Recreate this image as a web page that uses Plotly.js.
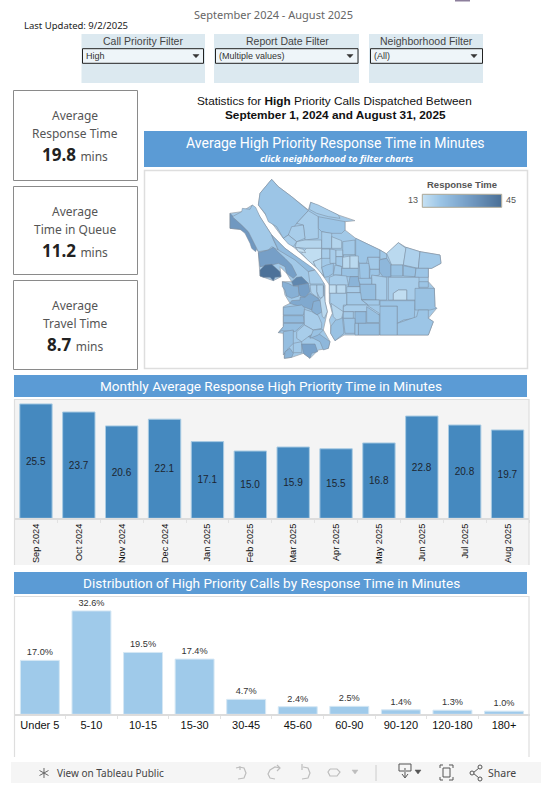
<!DOCTYPE html>
<html><head><meta charset="utf-8">
<script src="https://cdn.plot.ly/plotly-3.0.1.min.js"></script>
<style>html,body{margin:0;padding:0;background:#fff;overflow:hidden}#c{width:541px;height:793px}</style>
</head><body><div id="c"></div>
<script>
const months = ['Sep 2024','Oct 2024','Nov 2024','Dec 2024','Jan 2025','Feb 2025','Mar 2025','Apr 2025','May 2025','Jun 2025','Jul 2025','Aug 2025'];
const monthlyMinutes = [25.5,23.7,20.6,22.1,17.1,15.0,15.9,15.5,16.8,22.8,20.8,19.7];
const bins = ['Under 5','5-10','10-15','15-30','30-45','45-60','60-90','90-120','120-180','180+'];
const binShares = [17.0,32.6,19.5,17.4,4.7,2.4,2.5,1.4,1.3,1.0];
const legendStops = [13,21,29,37,45];
const colorStops = [[0,'#c6e1f3'],[0.22,'#9cc5e6'],[0.55,'#77a0c8'],[1,'#4a6f96']];

// City silhouette and neighborhoods, in map units
const cityLand = [
 [[340,105],[345,70],[380,28],[400,50],[440,80],[490,120],[497,97],[580,135],[630,152],[600,155],[600,180],[632,205],[705,240],[725,252],[760,218],[783,232],[825,245],[885,255],[888,280],[860,295],[850,295],[850,335],[868,355],[870,410],[875,415],[850,445],[865,455],[850,495],[640,495],[597,495],[570,512],[557,490],[557,468],[553,450],[562,430],[553,395],[553,345],[550,340],[522,300],[490,270],[450,235],[415,205],[380,160]],
 [[255,130],[290,125],[322,105],[345,140],[380,195],[420,235],[500,295],[540,345],[540,395],[547,425],[540,460],[535,480],[555,515],[550,535],[520,540],[495,565],[475,550],[440,562],[418,565],[415,490],[400,488],[415,470],[415,410],[435,400],[420,375],[412,335],[440,335],[425,310],[405,290],[408,320],[385,332],[345,318],[340,245],[330,235],[300,180],[255,175]]
];
const hoods = [
 [[255,130],[270,145],[285,160],[300,172],[315,190],[325,212],[335,232],[332,245],[320,235],[315,220],[300,190],[285,178],[255,175]],
 [[262,140],[290,125],[292,115],[315,118],[322,105],[332,112],[345,140],[360,165],[380,195],[385,210],[400,240],[380,230],[370,240],[340,245],[325,215],[310,185],[290,165]],
 [[380,195],[420,235],[500,292],[510,300],[490,305],[450,270],[400,240]],
 [[340,248],[370,240],[385,232],[400,245],[420,265],[440,285],[455,315],[445,325],[425,310],[420,290],[400,280],[380,285],[345,290]],
 [[345,300],[360,285],[380,283],[392,295],[405,305],[408,320],[390,322],[385,332],[375,322],[355,322],[345,318]],
 [[455,322],[470,320],[490,340],[470,345],[445,348],[440,335]],
 [[460,345],[490,340],[495,365],[480,382],[465,378],[458,360]],
 [[412,335],[430,340],[445,348],[460,350],[462,378],[440,385],[425,378],[420,360],[412,350]],
 [[465,382],[480,382],[495,370],[520,385],[525,395],[505,400],[500,420],[480,412],[450,405],[435,400],[440,392],[465,390]],
 [[505,395],[525,390],[532,425],[515,435],[500,422]],
 [[415,412],[470,405],[480,415],[475,435],[415,435]],
 [[415,437],[475,437],[478,458],[415,458]],
 [[415,460],[478,460],[450,485],[410,482],[400,488],[415,470]],
 [[415,485],[445,480],[445,520],[430,535],[415,555]],
 [[418,565],[420,545],[435,535],[445,550],[440,562]],
 [[478,418],[500,425],[520,437],[530,460],[530,475],[505,480],[478,465]],
 [[455,485],[478,465],[505,480],[505,490],[490,500],[470,515],[455,505]],
 [[445,520],[470,515],[470,548],[445,548]],
 [[470,522],[510,522],[518,545],[500,550],[495,565],[475,550]],
 [[490,500],[520,490],[555,515],[550,535],[535,540],[525,515],[505,505]],
 [[505,480],[530,478],[535,480],[520,495],[495,505]],
 [[558,468],[572,450],[592,440],[597,490],[570,512],[557,490]],
 [[340,105],[345,70],[380,28],[400,50],[440,80],[490,122],[455,160],[430,195],[415,205],[395,170],[370,155],[360,130]],
 [[497,97],[520,105],[580,135],[585,145],[550,140],[515,130],[493,118]],
 [[490,122],[520,140],[520,205],[480,210],[475,165],[455,160]],
 [[520,140],[560,148],[600,155],[600,180],[590,190],[555,190],[530,185],[520,175]],
 [[440,170],[475,165],[480,205],[455,215],[430,195]],
 [[415,205],[430,195],[455,215],[445,230],[430,222]],
 [[455,215],[480,210],[530,210],[530,235],[485,235],[450,232]],
 [[470,250],[485,235],[530,235],[530,265],[505,275],[512,290],[490,272]],
 [[505,275],[530,265],[530,292],[536,318],[512,290]],
 [[530,185],[560,190],[560,235],[530,235]],
 [[560,200],[590,212],[590,235],[560,235]],
 [[593,215],[630,210],[630,255],[593,255]],
 [[595,255],[640,255],[640,290],[595,290]],
 [[632,205],[705,240],[705,262],[668,262],[665,280],[643,280],[632,258]],
 [[705,240],[725,252],[725,265],[705,268]],
 [[703,270],[725,265],[738,285],[738,320],[715,322],[703,305]],
 [[725,250],[760,218],[783,235],[775,285],[740,285]],
 [[783,232],[825,245],[820,295],[775,285]],
 [[825,245],[885,255],[888,280],[860,295],[820,295]],
 [[738,285],[773,285],[773,318],[738,318]],
 [[775,287],[813,295],[810,320],[775,318]],
 [[813,295],[850,295],[850,322],[810,322]],
 [[530,237],[555,237],[555,265],[530,265]],
 [[555,237],[573,240],[573,280],[555,280]],
 [[573,240],[593,240],[593,260],[573,260]],
 [[573,260],[593,260],[593,290],[573,285]],
 [[593,262],[615,258],[615,295],[593,295]],
 [[615,258],[640,258],[640,295],[615,295]],
 [[643,280],[673,280],[673,330],[645,325]],
 [[668,262],[703,262],[703,298],[675,298]],
 [[675,298],[703,298],[703,315],[680,320],[673,330]],
 [[680,315],[725,322],[725,390],[692,390],[692,343],[680,343]],
 [[730,322],[822,322],[822,385],[810,390],[785,390],[785,360],[760,360],[745,370],[745,390],[730,390]],
 [[745,370],[760,360],[785,360],[785,390],[745,390]],
 [[530,292],[545,285],[565,280],[565,310],[550,320],[538,322]],
 [[570,285],[590,290],[590,315],[565,315]],
 [[590,295],[640,295],[640,320],[590,320]],
 [[615,320],[640,320],[645,350],[610,350]],
 [[640,325],[680,325],[680,343],[645,343]],
 [[553,322],[570,315],[605,318],[610,345],[553,345]],
 [[553,345],[573,345],[573,370],[553,370]],
 [[575,345],[602,345],[602,370],[575,370]],
 [[605,350],[645,350],[645,368],[605,368]],
 [[645,343],[692,343],[692,390],[647,388]],
 [[605,368],[647,368],[650,390],[670,405],[605,405]],
 [[555,370],[605,370],[605,405],[595,405],[595,425],[570,425],[555,400]],
 [[650,390],[703,390],[703,405],[670,405]],
 [[605,405],[665,405],[703,430],[703,435],[665,425],[595,425],[595,410]],
 [[558,400],[595,425],[590,445],[575,450],[565,440]],
 [[595,425],[625,425],[625,445],[595,445]],
 [[630,425],[663,425],[663,460],[630,460]],
 [[665,410],[703,435],[703,458],[665,458]],
 [[640,460],[703,460],[703,495],[640,495]],
 [[595,445],[630,445],[630,490],[600,490]],
 [[630,460],[640,460],[640,495],[630,495]],
 [[705,408],[757,408],[757,495],[705,495]],
 [[705,392],[810,392],[808,445],[775,450],[757,460],[757,408],[705,408]],
 [[810,355],[868,355],[870,410],[875,415],[855,420],[810,420]],
 [[757,460],[815,440],[820,420],[850,420],[850,445],[865,455],[850,495],[757,495]],
 [[822,335],[850,335],[850,352],[822,352]],
 [[515,345],[535,345],[535,380],[525,385],[515,365]],
 [[495,345],[515,345],[515,365],[520,385],[498,368]],
 [[490,305],[510,300],[525,320],[538,342],[495,342]],
 [[525,388],[536,378],[536,347],[540,395],[547,425],[538,445],[532,440],[530,420]],
 [[453,232],[475,238],[482,248],[460,245]]
];
const hoodMinutes = [33,19,23,31,44,38,31,26,28,26,22,23,22,22,25,18,18,19,30,24,21,21,20,18,18,20,18,18,16,14,15,18,16,19,19,20,19,24,15,17,19,21,21,20,18,18,17,19,15,15,20,19,20,18,18,14,20,19,21,25,20,18,14,15,18,22,19,18,19,18,16,19,23,21,22,20,20,20,20,21,20,20,17,17,18,15,13];

// ---- page geometry helpers
const W = 541, H = 793;
const X = p => p / W, Y = p => 1 - p / H;
const rect = (x0,y0,x1,y1,fill,line,lw,layer) => ({type:'rect',xref:'paper',yref:'paper',x0:X(x0),x1:X(x1),y0:Y(y0),y1:Y(y1),
  fillcolor:fill||'rgba(0,0,0,0)',line:{color:line||'rgba(0,0,0,0)',width:lw||0},layer:layer||'below'});
const path = (pts,color,lw,fill,closed) => ({type:'path',xref:'paper',yref:'paper',layer:'above',
  path:pts.map((p,i)=>(i?'L':'M')+X(p[0]).toFixed(5)+' '+Y(p[1]).toFixed(5)).join(' ')+(closed?' Z':''),
  line:{color:color,width:lw},fillcolor:fill||'rgba(0,0,0,0)'});
const SANS = 'Liberation Sans, Arial, sans-serif', UI = '"Noto Sans", sans-serif', HEAD = 'Roboto, sans-serif';
const text = (x,y,t,size,color,family,anchor) => ({xref:'paper',yref:'paper',x:X(x),y:Y(y),text:t,showarrow:false,
  xanchor:anchor||'center',yanchor:'middle',align:anchor||'center',borderpad:0,
  font:{size:size,color:color,family:family||SANS}});

function shade(v){
  const t = (v-13)/(45-13);
  let i = 0; while(i < colorStops.length-2 && t > colorStops[i+1][0]) i++;
  const a = colorStops[i], b = colorStops[i+1], f = (t-a[0])/(b[0]-a[0]);
  const h = (c,k)=>parseInt(c.substr(1+2*k,2),16);
  return 'rgb('+[0,1,2].map(k=>Math.round(h(a[1],k)+(h(b[1],k)-h(a[1],k))*f)).join(',')+')';
}

// ---- traces
const traces = [];
const MAPLINE = 'rgba(120,135,150,0.7)';
cityLand.forEach(poly=>{
  const c = poly.concat([poly[0]]);
  traces.push({type:'scatter',mode:'lines',xaxis:'x3',yaxis:'y3',x:c.map(p=>p[0]),y:c.map(p=>p[1]),fill:'toself',
    fillcolor:shade(19),line:{color:'rgba(160,168,176,0.8)',width:1},hoverinfo:'skip',showlegend:false});
});
hoods.forEach((poly,i)=>{
  const c = poly.concat([poly[0]]);
  traces.push({type:'scatter',mode:'lines',xaxis:'x3',yaxis:'y3',x:c.map(p=>p[0]),y:c.map(p=>p[1]),fill:'toself',
    fillcolor:shade(hoodMinutes[i]),line:{color:MAPLINE,width:0.7},text:String(hoodMinutes[i]),hoverinfo:'text',showlegend:false});
});
traces.push({type:'heatmap',xaxis:'x4',yaxis:'y4',x:legendStops,y:[0,1],z:[legendStops,legendStops],zmin:13,zmax:45,
  zsmooth:'best',colorscale:colorStops,showscale:false,hoverinfo:'skip'});
traces.push({type:'bar',xaxis:'x',yaxis:'y',x:months,y:monthlyMinutes,width:0.755,showlegend:false,
  marker:{color:'#4589bf',line:{color:'#a9cbe3',width:1}},
  text:monthlyMinutes.map(v=>v.toFixed(1)),textposition:'inside',insidetextanchor:'middle',textangle:0,
  textfont:{size:10,color:'#1c2530',family:SANS},hoverinfo:'x+y'});
traces.push({type:'bar',xaxis:'x2',yaxis:'y2',x:bins,y:binShares,width:0.755,showlegend:false,
  marker:{color:'#9fcaea',line:{color:'#d5e7f4',width:1}},
  text:binShares.map(v=>v.toFixed(1)+'%'),textposition:'outside',textangle:0,cliponaxis:false,
  textfont:{size:9.2,color:'#333333',family:SANS},hoverinfo:'x+y'});

// ---- page furniture
const PANEL = '#dedede';
const shapes = [
  rect(455,0,470,1.5,'#8d7f9c'),
  rect(81.5,34,205,83,'#dce9f0'), rect(214,34,359,83,'#dce9f0'), rect(369,34,483,83,'#dce9f0'),
  rect(82.5,48.7,203.5,63.3,'#eef5f9','#222',1), rect(215.5,48.7,358,63.3,'#eef5f9','#222',1), rect(370.5,48.7,482.5,63.3,'#eef5f9','#222',1),
  rect(144,131,527,167,'#5b9bd5'),
  rect(144.5,170.5,527.5,368.5,'#fff',PANEL,1.5),
  rect(13.5,90.5,137.5,180.5,'#fff','#8a8a8a',1), rect(13.5,186.5,137.5,274.5,'#fff','#8a8a8a',1), rect(13.5,280.5,137.5,369.5,'#fff','#8a8a8a',1),
  rect(14,375,527,397,'#5b9bd5'),
  rect(14.5,399.5,529,565,'#f4f4f4'),
  path([[14.5,565],[14.5,399.5],[529,399.5],[529,565]],PANEL,1.2),
  rect(14,572,527,594,'#5b9bd5'),
  path([[14.5,757],[14.5,596.5],[529,596.5],[529,757]],PANEL,1.2),
  rect(11,762,541,783,'#f5f5f5'),
  rect(422.3,194.3,501.7,207.3,'rgba(0,0,0,0)','#a9a594',1,'above')
];
const arrow = (x,y)=>path([[x-3,y-1.5],[x+3,y-1.5],[x,y+1.8]],'#333',0.5,'#333',true);
shapes.push(arrow(196,56),arrow(350,56),arrow(474,56));
// toolbar icons
const G='#bdbdbd', D='#555';
const arc=(x,y)=>[[x+3,y-6],[x+8,y-5],[x+10,y],[x+8,y+5],[x+2,y+6]];
shapes.push(path(arc(236,773),G,1.2), path([[236,768],[240,767],[240,770]],G,1.2));
shapes.push(path([[280,768],[275,767],[270,770],[268,774],[270,778],[275,779]],G,1.2), path([[277,765],[280,768],[277,771]],G,1.2));
shapes.push(path(arc(300,773),G,1.2), path([[302,764],[302,770]],G,1.2));
shapes.push(path([[330,769],[337,769],[340,772],[337,776],[330,776],[328,772],[330,769]],G,1.2));
shapes.push(path([[352,770],[358,770],[355,774]],G,0.5,G,true));
shapes.push(path([[376,765],[376,781]],'#ccc',1));
shapes.push(path([[404,771],[399,771],[399,764],[411,764],[411,771],[406,771]],D,1), path([[405,768],[405,777]],D,1), path([[402,774],[405,778],[408,774]],D,1));
shapes.push(path([[415,770],[421,770],[418,774]],D,0.5,D,true));
shapes.push(path([[440,768],[440,765],[443,765]],D,1),path([[449,765],[453,765],[453,768]],D,1),path([[453,777],[453,780],[449,780]],D,1),path([[443,780],[440,780],[440,777]],D,1));
shapes.push(rect(443,768,450,777,'rgba(0,0,0,0)',D,1,'above'));
shapes.push(path([[473,773],[479,768]],D,1),path([[473,773],[479,778]],D,1));
[[472,773],[480,767],[480,779]].forEach(c=>shapes.push({type:'circle',xref:'paper',yref:'paper',layer:'above',x0:X(c[0]-2),x1:X(c[0]+2),y0:Y(c[1]+2),y1:Y(c[1]-2),line:{color:D,width:1},fillcolor:'#f5f5f5'}));
[[0,-5],[0,5],[-4.5,-2.5],[4.5,2.5],[-4.5,2.5],[4.5,-2.5]].forEach(o=>shapes.push(path([[44,773],[44+o[0],773+o[1]]],'#666',1)));

const kpi = (y,a,b,v)=>[
  text(75,y,a,12,'#555',UI), text(75,y+17.7,b,12,'#555',UI),
  text(75,y+38.5,'<b>'+v+'</b> <span style="font-size:12px;color:#555">mins</span>',17,'#222',UI)];
const annotations = [
  text(273,14,'September 2024 - August 2025',11,'#666',UI),
  text(23,25,'Last Updated: 9/2/2025',9.5,'#222',UI,'left'),
  text(143,41,'Call Priority Filter',10.5,'#444',SANS), text(287,41,'Report Date Filter',10.5,'#444',SANS), text(426,41,'Neighborhood Filter',10.5,'#444',SANS),
  text(85,56,'High',9,'#333',SANS,'left'), text(218,56,'(Multiple values)',9,'#333',SANS,'left'), text(373,56,'(All)',9,'#333',SANS,'left'),
  text(334,101,'Statistics for <b>High</b> Priority Calls Dispatched Between',11.8,'#111',SANS),
  text(335,115,'<b>September 1, 2024 and August 31, 2025</b>',11.8,'#111',SANS),
  text(335,143,'Average High Priority Response Time in Minutes',14,'#fff',HEAD),
  text(337,158,'<b><i>click neighborhood to filter charts</i></b>',9.5,'#fff',UI),
  text(462,184,'<b>Response Time</b>',9.5,'#555',SANS),
  text(419,200,'13',9,'#555',SANS,'right'), text(505,200,'45',9,'#555',SANS,'left'),
  text(271,386,'Monthly Average Response High Priority Time in Minutes',13.6,'#fff',HEAD),
  text(271,583,'Distribution of High Priority Calls by Response Time in Minutes',13.6,'#fff',HEAD),
  text(56,773,'View on Tableau Public',10,'#444',UI,'left'),
  text(487,773,'Share',10.5,'#444',UI,'left')
].concat(kpi(115.5,'Average','Response Time','19.8'),kpi(211.5,'Average','Time in Queue','11.2'),kpi(305.5,'Average','Travel Time','8.7'));

const hiddenAxis = o => Object.assign({visible:false,fixedrange:true},o);
const layout = {
  width:W,height:H,margin:{l:0,r:0,t:0,b:0},paper_bgcolor:'#fff',plot_bgcolor:'rgba(0,0,0,0)',showlegend:false,
  bargap:0.2,shapes:shapes,annotations:annotations,
  xaxis:{domain:[X(14.5),X(529)],anchor:'y',type:'category',tickson:'boundaries',ticks:'outside',ticklen:3,tickcolor:'#e2e2e2',
    tickangle:-90,tickfont:{size:9.2,color:'#111',family:SANS},showline:true,linecolor:'#dcdcdc',linewidth:1.5,showgrid:false,fixedrange:true,automargin:false},
  yaxis:{domain:[Y(518.3),Y(399)],anchor:'x',range:[0,26.6],visible:false,fixedrange:true},
  xaxis2:{domain:[X(14.1),X(529.8)],anchor:'y2',type:'category',tickson:'boundaries',ticks:'outside',ticklen:3,tickcolor:'#e2e2e2',
    tickangle:0,tickfont:{size:11,color:'#111',family:SANS},showline:true,linecolor:'#dcdcdc',linewidth:1.5,showgrid:false,fixedrange:true,automargin:false},
  yaxis2:{domain:[Y(714.3),Y(596)],anchor:'x2',range:[0,37.3],visible:false,fixedrange:true},
  xaxis3:hiddenAxis({domain:[X(145),X(528)],anchor:'y3',range:[0,1149]}),
  yaxis3:hiddenAxis({domain:[Y(369),Y(170)],anchor:'x3',range:[597,0]}),
  xaxis4:hiddenAxis({domain:[X(422.3),X(501.7)],anchor:'y4',range:[13,45]}),
  yaxis4:hiddenAxis({domain:[Y(207.3),Y(194.3)],anchor:'x4',range:[0,1]})
};
Plotly.newPlot('c',traces,layout,{displayModeBar:false,responsive:false});
</script></body></html>
